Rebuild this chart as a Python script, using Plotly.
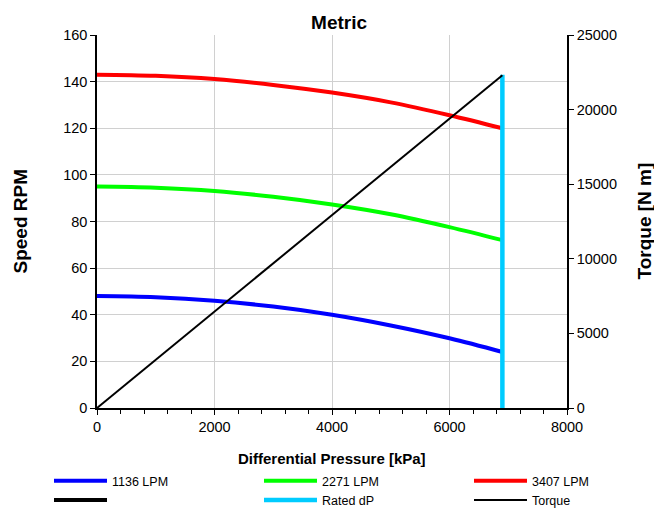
import plotly.graph_objects as go

# Data
pressure = [0, 1000, 2000, 3000, 4000, 5000, 6000, 6900]
rpm_1136 = [48, 47.5, 46, 43.5, 40, 35.4, 29.9, 24]
rpm_2271 = [95, 94.5, 93.1, 90.6, 87.3, 83.1, 77.6, 72]
rpm_3407 = [143, 142.5, 141.1, 138.6, 135.3, 131.1, 125.6, 120]
torque_x = [0, 6900]
torque_y = [0, 22300]
rated_x = [6900, 6900]
rated_y = [0, 143]

font = "Liberation Sans, Arial, sans-serif"
W, H = 654, 504  # page body has an 8px margin
L, R, T, B = 89, 95, 27, 104
PW, PH = W - L - R, H - T - B

fig = go.Figure()
fig.add_trace(go.Scatter(x=pressure, y=rpm_1136, mode="lines", name="1136 LPM", legend="legend",
                         line=dict(color="#0000FF", width=4, shape="spline")))
fig.add_trace(go.Scatter(x=pressure, y=rpm_2271, mode="lines", name="2271 LPM", legend="legend2",
                         line=dict(color="#00FF00", width=4, shape="spline")))
fig.add_trace(go.Scatter(x=pressure, y=rpm_3407, mode="lines", name="3407 LPM", legend="legend3",
                         line=dict(color="#FF0000", width=4, shape="spline")))
fig.add_trace(go.Scatter(x=[None], y=[None], mode="lines", name=" ", legend="legend",
                         line=dict(color="#000000", width=4)))
fig.add_trace(go.Scatter(x=rated_x, y=rated_y, mode="lines", name="Rated dP", legend="legend2",
                         line=dict(color="#00CCFF", width=4.5)))
fig.add_trace(go.Scatter(x=torque_x, y=torque_y, mode="lines", name="Torque", legend="legend3",
                         line=dict(color="#000000", width=2), yaxis="y2"))

def leg(xpx):
    return dict(orientation="v", x=xpx / W, xref="container", y=1 - 458 / H, yref="container",
                xanchor="left", yanchor="top", font=dict(size=12.5), tracegroupgap=0,
                itemwidth=53, bgcolor="rgba(0,0,0,0)", traceorder="normal")

fig.update_layout(
    width=W, height=H,
    margin=dict(l=L, r=R, t=T, b=B, autoexpand=False),
    paper_bgcolor="white", plot_bgcolor="white",
    font=dict(family=font, size=14.5, color="#000"),
    title=dict(text="<b>Metric</b>", x=0.515, xref="paper", xanchor="center",
               y=1 - 14 / H, yref="container", yanchor="middle",
               font=dict(size=19, family=font)),
    xaxis=dict(range=[0, 8000], dtick=2000, showgrid=True, gridcolor="#d0d0d0",
               showline=True, linecolor="#000", linewidth=2,
               ticks="outside", ticklen=5, tickcolor="#000",
               minor=dict(dtick=400, ticks="outside", ticklen=4, tickcolor="#000", showgrid=False),
               zeroline=False, automargin=False),
    yaxis=dict(range=[0, 160], dtick=20, showgrid=True, gridcolor="#d0d0d0",
               showline=True, linecolor="#000", linewidth=1.5,
               ticks="outside", ticklen=5, tickcolor="#000",
               zeroline=False, automargin=False),
    yaxis2=dict(range=[0, 25000], dtick=5000, overlaying="y", side="right",
                showgrid=False, showline=True, linecolor="#000", linewidth=1.5,
                ticks="outside", ticklen=5, tickcolor="#000", tickformat="d",
                zeroline=False, automargin=False),
    legend=leg(41),
    legend2=leg(251),
    legend3=leg(461),
    showlegend=True,
    annotations=[
        dict(text="<b>Speed RPM</b>", xref="paper", yref="paper",
             x=(12 - L) / PW, y=0.5, xanchor="center", yanchor="middle",
             textangle=-90, showarrow=False, font=dict(size=19)),
        dict(text="<b>Torque [N m]</b>", xref="paper", yref="paper",
             x=(636 - L) / PW, y=0.5, xanchor="center", yanchor="middle",
             textangle=-90, showarrow=False, font=dict(size=19)),
        dict(text="<b>Differential Pressure [kPa]</b>", xref="paper", yref="paper",
             x=0.5, y=-50 / PH, xanchor="center", yanchor="middle",
             showarrow=False, font=dict(size=15)),
    ],
)

fig.write_html("out.html")
